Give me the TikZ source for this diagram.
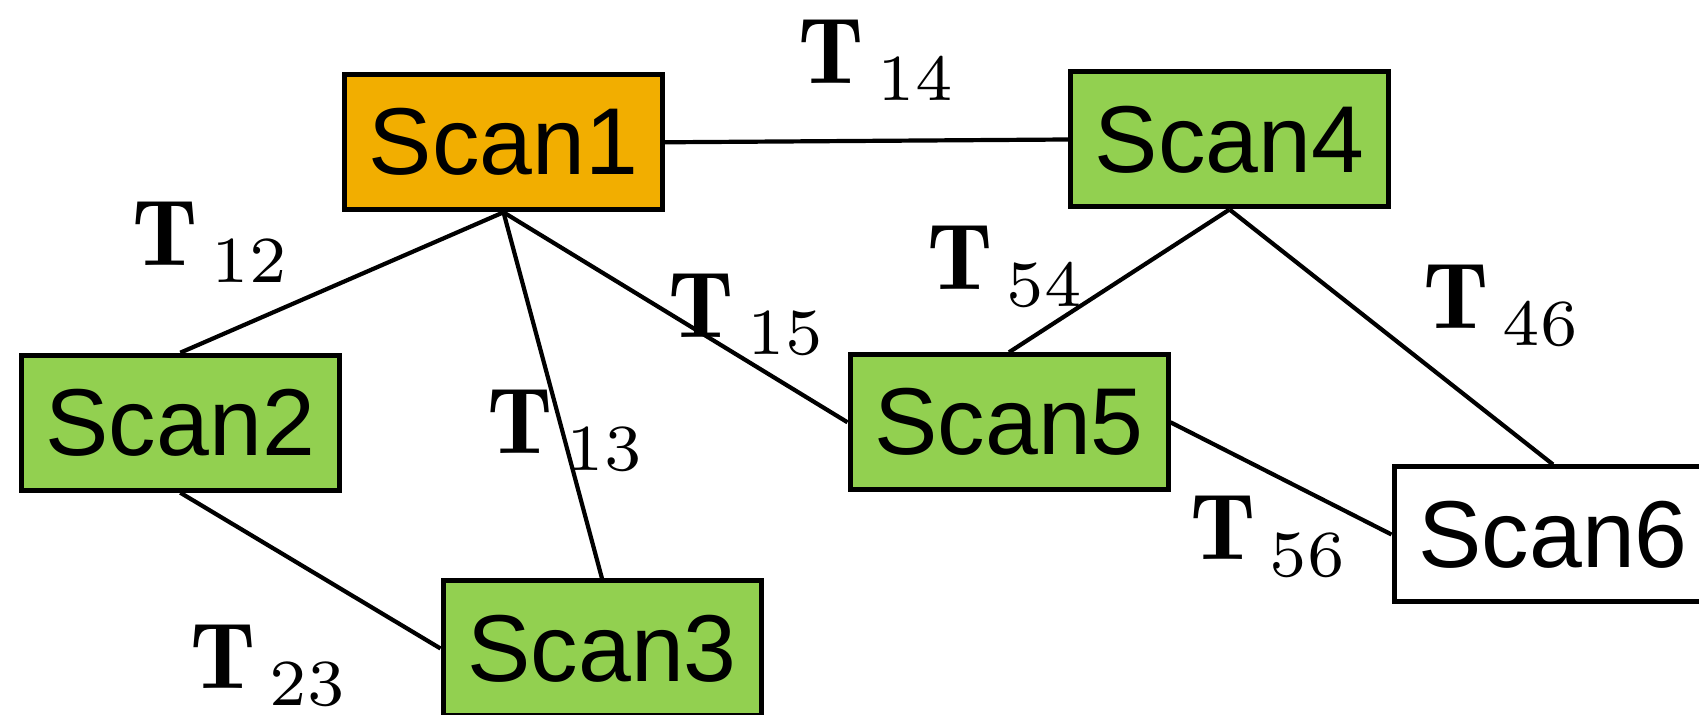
\documentclass[tikz,border=0pt]{standalone}
\usepackage{fontspec}
\newfontfamily\scanfont{Liberation Sans}
\definecolor{scanorange}{HTML}{F2AE00}
\definecolor{scangreen}{HTML}{92D050}
\newcommand{\tlab}[1]{\scalebox{4.7}{${\mathbf{T}\kern1.5pt}_{\raisebox{-0.3pt}{$\scriptstyle #1$}}$}}
\begin{document}
\begin{tikzpicture}[x=0.5pt,y=-0.5pt,
  scanbox/.style={draw=black, line width=2.5pt, minimum width=159pt, minimum height=67.5pt,
    inner sep=0pt, font=\scanfont\fontsize{47.5}{56}\selectfont},
  edge/.style={line width=2.1pt, black},
  tlabel/.style={anchor=base west, inner sep=0pt}]
\useasboundingbox (0,0) rectangle (1699,715);
\node[scanbox, fill=scanorange] (s1) at (503.5,142.3) {Scan1};
\node[scanbox, fill=scangreen] (s2) at (180.3,422.7) {Scan2};
\node[scanbox, fill=scangreen] (s3) at (602,648.5) {Scan3};
\node[scanbox, fill=scangreen] (s4) at (1229.5,139.5) {Scan4};
\node[scanbox, fill=scangreen] (s5) at (1009,422.3) {Scan5};
\node[scanbox, fill=white] (s6) at (1553,534.5) {Scan6};
\draw[edge] (s1.east) -- (s4.west);
\draw[edge] (s1.south) -- (s2.north);
\draw[edge] (s1.south) -- (s3.north);
\draw[edge] (s1.south) -- (s5.west);
\draw[edge] (s2.south) -- (s3.west);
\draw[edge] (s4.south) -- (s5.north);
\draw[edge] (s4.south) -- (s6.north);
\draw[edge] (s5.east) -- (s6.west);
\node[tlabel] (t14) at (798,84) {\tlab{14}};
\node[tlabel] (t12) at (132,266) {\tlab{12}};
\node[tlabel] (t13) at (487,454) {\tlab{13}};
\node[tlabel] (t15) at (668,337.4) {\tlab{15}};
\node[tlabel] (t23) at (190,688.5) {\tlab{23}};
\node[tlabel] (t54) at (927,289.6) {\tlab{54}};
\node[tlabel] (t46) at (1423,329) {\tlab{46}};
\node[tlabel] (t56) at (1190,560) {\tlab{56}};
\end{tikzpicture}
\end{document}
